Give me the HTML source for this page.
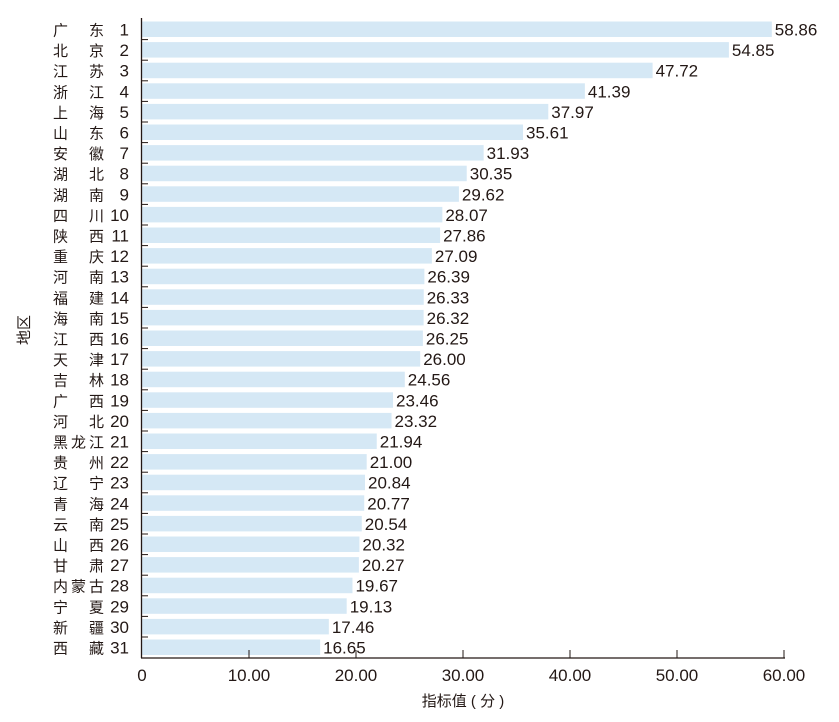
<!DOCTYPE html>
<html><head><meta charset="utf-8"><style>
body{margin:0;background:#fff;}
svg text{font-family:"Liberation Sans","Noto Sans CJK SC",sans-serif;fill:#231815;font-size:15px;}
svg text.n{font-size:17px;}
</style></head><body>
<svg width="839" height="717" xmlns="http://www.w3.org/2000/svg" id="s"></svg>
<script>
(function(){
var d=[["广","东",58.86],["北","京",54.85],["江","苏",47.72],["浙","江",41.39],["上","海",37.97],["山","东",35.61],["安","徽",31.93],["湖","北",30.35],["湖","南",29.62],["四","川",28.07],["陕","西",27.86],["重","庆",27.09],["河","南",26.39],["福","建",26.33],["海","南",26.32],["江","西",26.25],["天","津",26.00],["吉","林",24.56],["广","西",23.46],["河","北",23.32],["黑龙江","",21.94],["贵","州",21.00],["辽","宁",20.84],["青","海",20.77],["云","南",20.54],["山","西",20.32],["甘","肃",20.27],["内蒙古","",19.67],["宁","夏",19.13],["新","疆",17.46],["西","藏",16.65]];
var h='',x0=142,k=10.7,y0=21.5,st=20.6;
d.forEach(function(r,i){var y=y0+i*st;var w=r[2]*k;
h+='<rect x="'+x0+'" y="'+y+'" width="'+w+'" height="15.5" fill="#d5e8f5"/>';
h+='<text class="n" x="'+(x0+w+3)+'" y="'+(y+14)+'">'+r[2].toFixed(2)+'</text>';
if(r[1]){h+='<text x="53" y="'+(y+14)+'">'+r[0]+'</text><text x="89" y="'+(y+14)+'">'+r[1]+'</text>';}
else h+='<text x="53" y="'+(y+14)+'" textLength="51">'+r[0]+'</text>';
h+='<text class="n" x="129" y="'+(y+14)+'" text-anchor="end">'+(i+1)+'</text>';
if(i>0)h+='<line x1="'+x0+'" x2="'+(x0+6)+'" y1="'+(y-2.5)+'" y2="'+(y-2.5)+'" stroke="#231815" stroke-width="1"/>';
});
h+='<line x1="141.5" y1="18" x2="141.5" y2="658" stroke="#231815" stroke-width="1.3"/>';
h+='<line x1="141" y1="658" x2="785" y2="658" stroke="#231815" stroke-width="1.3"/>';
for(var v=0;v<=60;v+=10){var x=x0+v*k;
if(v>0)h+='<line x1="'+x+'" x2="'+x+'" y1="658" y2="650" stroke="#231815"/>';
h+='<text class="n" x="'+x+'" y="681" text-anchor="middle">'+(v?v.toFixed(2):0)+'</text>';}
h+='<text x="463" y="706" text-anchor="middle">指标值 ( 分 )</text>';
h+='<text transform="translate(29,330) rotate(-90)" text-anchor="middle">地区</text>';
document.getElementById('s').innerHTML=h;
})();
</script>
</body></html>
